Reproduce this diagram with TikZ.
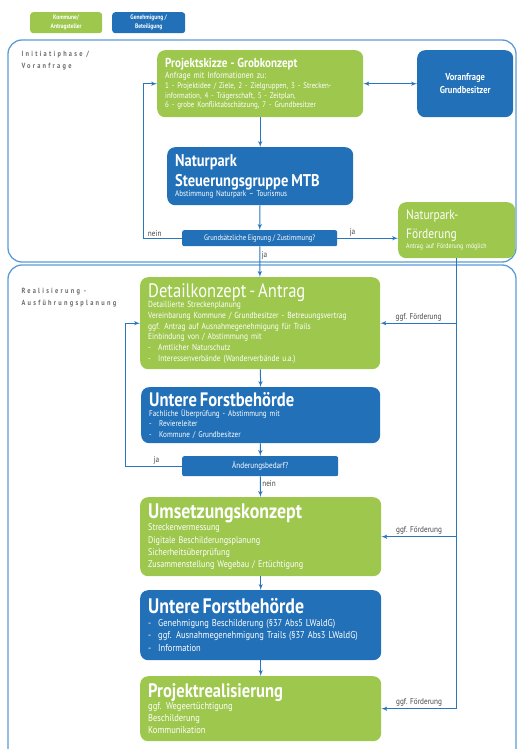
\documentclass[tikz,border=0pt]{standalone}
\usepackage{fontspec}
\setmainfont[FakeStretch=0.85]{PT Sans}
\usetikzlibrary{arrows,positioning}
\definecolor{kgreen}{RGB}{158,199,78}
\definecolor{gblue}{RGB}{33,112,184}
\definecolor{pline}{RGB}{92,155,214}
\definecolor{lblgray}{RGB}{70,70,70}
\newcommand{\dash}{\makebox[10pt][l]{-}}

\begin{document}
\begin{tikzpicture}[
    x=1pt, y=-1pt,
    >=latex',
    font=\fontsize{8.8}{10.7}\selectfont,
    gbox/.style={
		rectangle,
		rounded corners=8pt,
		fill=kgreen,
		text=white,
		anchor=north west,
		inner xsep=8pt,
		inner ysep=2pt,
		align=left
	},
    bbox/.style={
		gbox,
		fill=gblue
	},
	query/.style={
		rectangle,
		rounded corners=2pt,
		fill=gblue,
		text=white,
		anchor=north west,
		inner sep=0pt,
		align=center,
		font=\fontsize{7.8}{9}\selectfont
	},
	conn/.style={
		draw=gblue!85!pline,
		line width=1pt
	},
	panel/.style={
		draw=pline,
		line width=1.3pt,
		rounded corners=14pt
	},
	phase/.style={
		anchor=north west,
		align=left,
		text=lblgray!80!white,
		font=\fontsize{7.5}{11.5}\selectfont\bfseries\addfontfeatures{LetterSpace=30}
	},
	lbl/.style={
		text=lblgray,
		inner sep=1.5pt,
		font=\fontsize{8.5}{10}\selectfont
	}
  ]
  \useasboundingbox (0,0) rectangle (518,749);

  % legend
  \node [query, fill=kgreen, minimum width=72pt, minimum height=21pt, rounded corners=3pt, font=\fontsize{6.5}{9}\selectfont\bfseries] (leggreen) at (30,12) {Kommune/\\Antragsteller};
  \node [query, minimum width=73pt, minimum height=21pt, rounded corners=3pt, font=\fontsize{6.5}{9}\selectfont\bfseries] (legblue) at (112,12) {Genehmigung /\\Beteiligung};

  % phases
  \draw [panel] (8,40) rectangle (516,262);
  \draw [panel] (8,749) -- (8,265) -- (516,265) -- (516,749);
  \node [phase] (phase1) at (18,48) {Initiatiphase /\\Voranfrage};
  \node [phase] (phase2) at (18,285) {Realisierung -\\Ausführungsplanung};

  % initiation
  \node [gbox, text width=190pt, minimum height=67pt] (skizze) at (157,50)
 {%
  {\fontsize{13}{15}\selectfont\bfseries Projektskizze - Grobkonzept\par}
  {\fontsize{9}{11.5}\selectfont Anfrage mit Informationen zu:\par}
  {\fontsize{8.2}{9.8}\selectfont 1 - Projektidee / Ziele, 2 - Zielgruppen, 3 - Strecken-\\
  information, 4 - Trägerschaft, 5 - Zeitplan,\\
  6 - grobe Konfliktabschätzung, 7 - Grundbesitzer\par}
 };

  \node [bbox, text width=80pt, minimum height=67pt, align=center, font=\fontsize{10}{12.5}\selectfont\bfseries] (voranfrage) at (417,50)
 {Voranfrage\\Grundbesitzer};

  \node [bbox, text width=170pt, minimum height=58pt] (steuerung) at (167,147)
 {%
  {\fontsize{17}{20}\selectfont\bfseries Naturpark\\Steuerungsgruppe MTB\par}
  {\fontsize{8.3}{10}\selectfont Abstimmung Naturpark – Tourismus\par}
 };

  \node [query, minimum width=155pt, minimum height=16pt] (eignung) at (182,230)
 {Grundsätzliche Eignung / Zustimmung?};

  \node [gbox, text width=101pt, minimum height=56pt] (foerderung) at (398,202)
 {%
  {\fontsize{13.5}{19}\selectfont Naturpark-\\Förderung\par}
  {\fontsize{7}{10}\selectfont Antrag auf Förderung möglich\par}
 };

  % realisation
  \node [gbox, text width=224pt, minimum height=92pt] (detail) at (140,277)
 {%
  {\fontsize{19.5}{21}\selectfont Detailkonzept - Antrag\par}
  Detaillierte Streckenplanung\\
  Vereinbarung Kommune / Grundbesitzer - Betreuungsvertrag\\
  ggf. Antrag auf Ausnahmegenehmigung für Trails\\
  Einbindung von / Abstimmung mit\\
  \dash Amtlicher Naturschutz\\
  \dash Interessenverbände (Wanderverbände u.a.)
 };

  \node [bbox, text width=223pt, minimum height=56pt] (ufb1) at (141,387)
 {%
  {\fontsize{19.5}{20}\selectfont\bfseries Untere Forstbehörde\par}
  {\fontsize{8.4}{10.3}\selectfont Fachliche Überprüfung - Abstimmung mit\\
  \dash Reviereleiter\\
  \dash Kommune / Grundbesitzer\par}
 };

  \node [query, minimum width=156pt, minimum height=20pt, font=\fontsize{8.5}{10}\selectfont] (aenderung) at (182,456)
 {Änderungsbedarf?};

  \node [gbox, text width=225pt, minimum height=79pt] (umsetzung) at (140,497)
 {%
  {\fontsize{21}{22}\selectfont\bfseries Umsetzungskonzept\par}
  {\fontsize{9.6}{12.4}\selectfont Streckenvermessung\\
  Digitale Beschilderungsplanung\\
  Sicherheitsüberprüfung\\
  Zusammenstellung Wegebau / Ertüchtigung\par}
 };

  \node [bbox, text width=225pt, minimum height=70pt] (ufb2) at (140,590)
 {%
  {\fontsize{21}{22}\selectfont\bfseries Untere Forstbehörde\par}
  {\fontsize{10}{12.5}\selectfont \dash Genehmigung Beschilderung (§37 Abs5 LWaldG)\\
  \dash ggf. Ausnahmegenehmigung Trails (§37 Abs3 LWaldG)\\
  \dash Information\par}
 };

  \node [gbox, text width=225pt, minimum height=65pt] (realisierung) at (140,676)
 {%
  {\fontsize{19.5}{21}\selectfont\bfseries Projektrealisierung\par}
  {\fontsize{10}{12}\selectfont ggf. Wegeertüchtigung\\
  Beschilderung\\
  Kommunikation\par}
 };

  % connectors
  \draw [conn,<->] (skizze) -- (voranfrage);
  \draw [conn,->] (skizze) -- (steuerung);
  \draw [conn,->] (steuerung) -- (eignung);
  \draw [conn,->] (eignung.west) -- node [lbl, above, pos=0.7] {nein} ++(-39,0) |- (skizze.west);
  \draw [conn,->] (eignung.east) -- node [lbl, above, pos=0.25] {ja} (eignung.east -| foerderung.west);
  \draw [conn,->] (eignung) -- node [lbl, right, pos=0.3] {ja} (detail);

  \draw [conn,->] (detail) -- (ufb1);
  \draw [conn,->] (ufb1) -- (aenderung);
  \draw [conn,->] (aenderung.west) -- node [lbl, above, pos=0.45] {ja} ++(-57,0) |- (detail.west);
  \draw [conn,->] (aenderung) -- node [lbl, right, pos=0.35] {nein} (umsetzung);
  \draw [conn,->] (umsetzung) -- (ufb2);
  \draw [conn,->] (ufb2) -- (realisierung);

  \draw [conn,->] (foerderung.south) |- node [lbl, above, pos=0.75] {ggf. Förderung} (realisierung.east);
  \draw [conn,->] (foerderung.south |- detail.east) -- node [lbl, above] {ggf. Förderung} (detail.east);
  \draw [conn,->] (foerderung.south |- umsetzung.east) -- node [lbl, above] {ggf. Förderung} (umsetzung.east);

\end{tikzpicture}
\end{document}
